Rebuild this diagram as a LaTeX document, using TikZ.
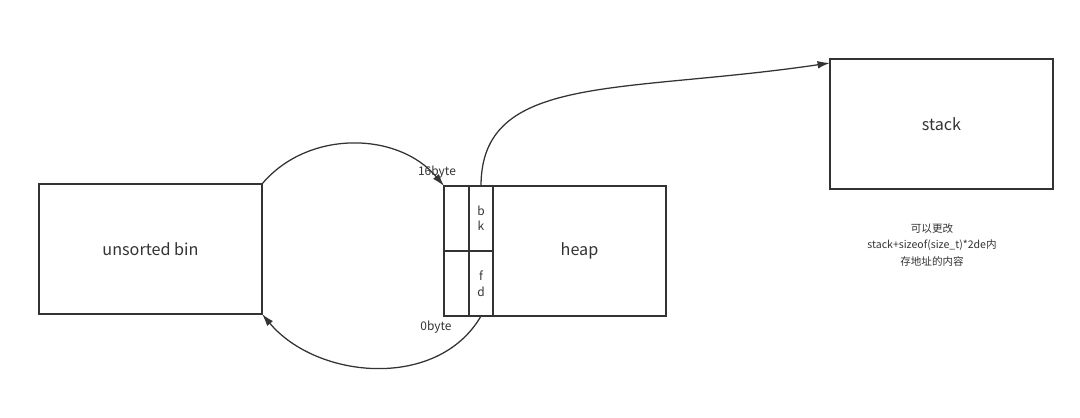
\documentclass[tikz,border=0pt]{standalone}
\usepackage{fontspec}
\setmainfont{Noto Sans CJK SC}
\usepackage{tikz}
\usetikzlibrary{arrows.meta, positioning}
\definecolor{colLine}{RGB}{51,51,51}

\begin{document}
\begin{tikzpicture}[
  x=0.025cm, y=0.025cm,
  box/.style={rectangle, draw=colLine, line width=0.9pt, inner sep=0pt, outer sep=0pt,
              minimum width=5.575cm, minimum height=3.25cm, font=\fontsize{11.5}{13}\selectfont,
              text=colLine},
  cell/.style={rectangle, draw=colLine, line width=0.9pt, inner sep=0pt, outer sep=0pt,
               minimum width=0.6cm, minimum height=1.625cm, align=center,
               font=\fontsize{8.5}{11}\selectfont, text=colLine},
  tag/.style={font=\fontsize{8.5}{10}\selectfont, text=colLine, inner sep=1pt},
  arr/.style={-{Latex[length=3.1mm,width=1.9mm]}, line width=0.9pt, draw=colLine},
]
\useasboundingbox (0,0) rectangle (1080,418);

\node[box] (unsorted) at (150.5,169) {unsorted bin};

% heap with its bk / fd cells
\node[cell, anchor=north west, minimum width=0.625cm] (cellTL) at (444,232) {};
\node[cell, below=0pt of cellTL, minimum width=0.625cm] (cellBL) {};
\node[cell, right=0pt of cellTL] (bk) {b\\k};
\node[cell, right=0pt of cellBL] (fd) {f\\d};
\node[box, anchor=north west, minimum width=4.325cm] (heap) at (bk.north east) {\raisebox{-2pt}{heap}};

\node[box] (stack) at (941.5,294) {stack};
\node[align=center, text=colLine, font=\fontsize{7.5}{11.5}\selectfont] (note) at (932,173)
  {可以更改\\stack+sizeof(size\_t)*2de内\\存地址的内容};

\node[tag] (top) at (437,246) {16byte};
\node[tag] (bot) at (436,91) {0byte};

\draw[arr] (unsorted.north east) to[out=50, in=130] (cellTL.north west);
\draw[arr] (fd.south) to[out=240, in=310] (unsorted.south east);
\draw[arr] (bk.north) .. controls +(0,113) and +(-210,-31) .. ([yshift=-0.1cm]stack.north west);
\end{tikzpicture}
\end{document}
